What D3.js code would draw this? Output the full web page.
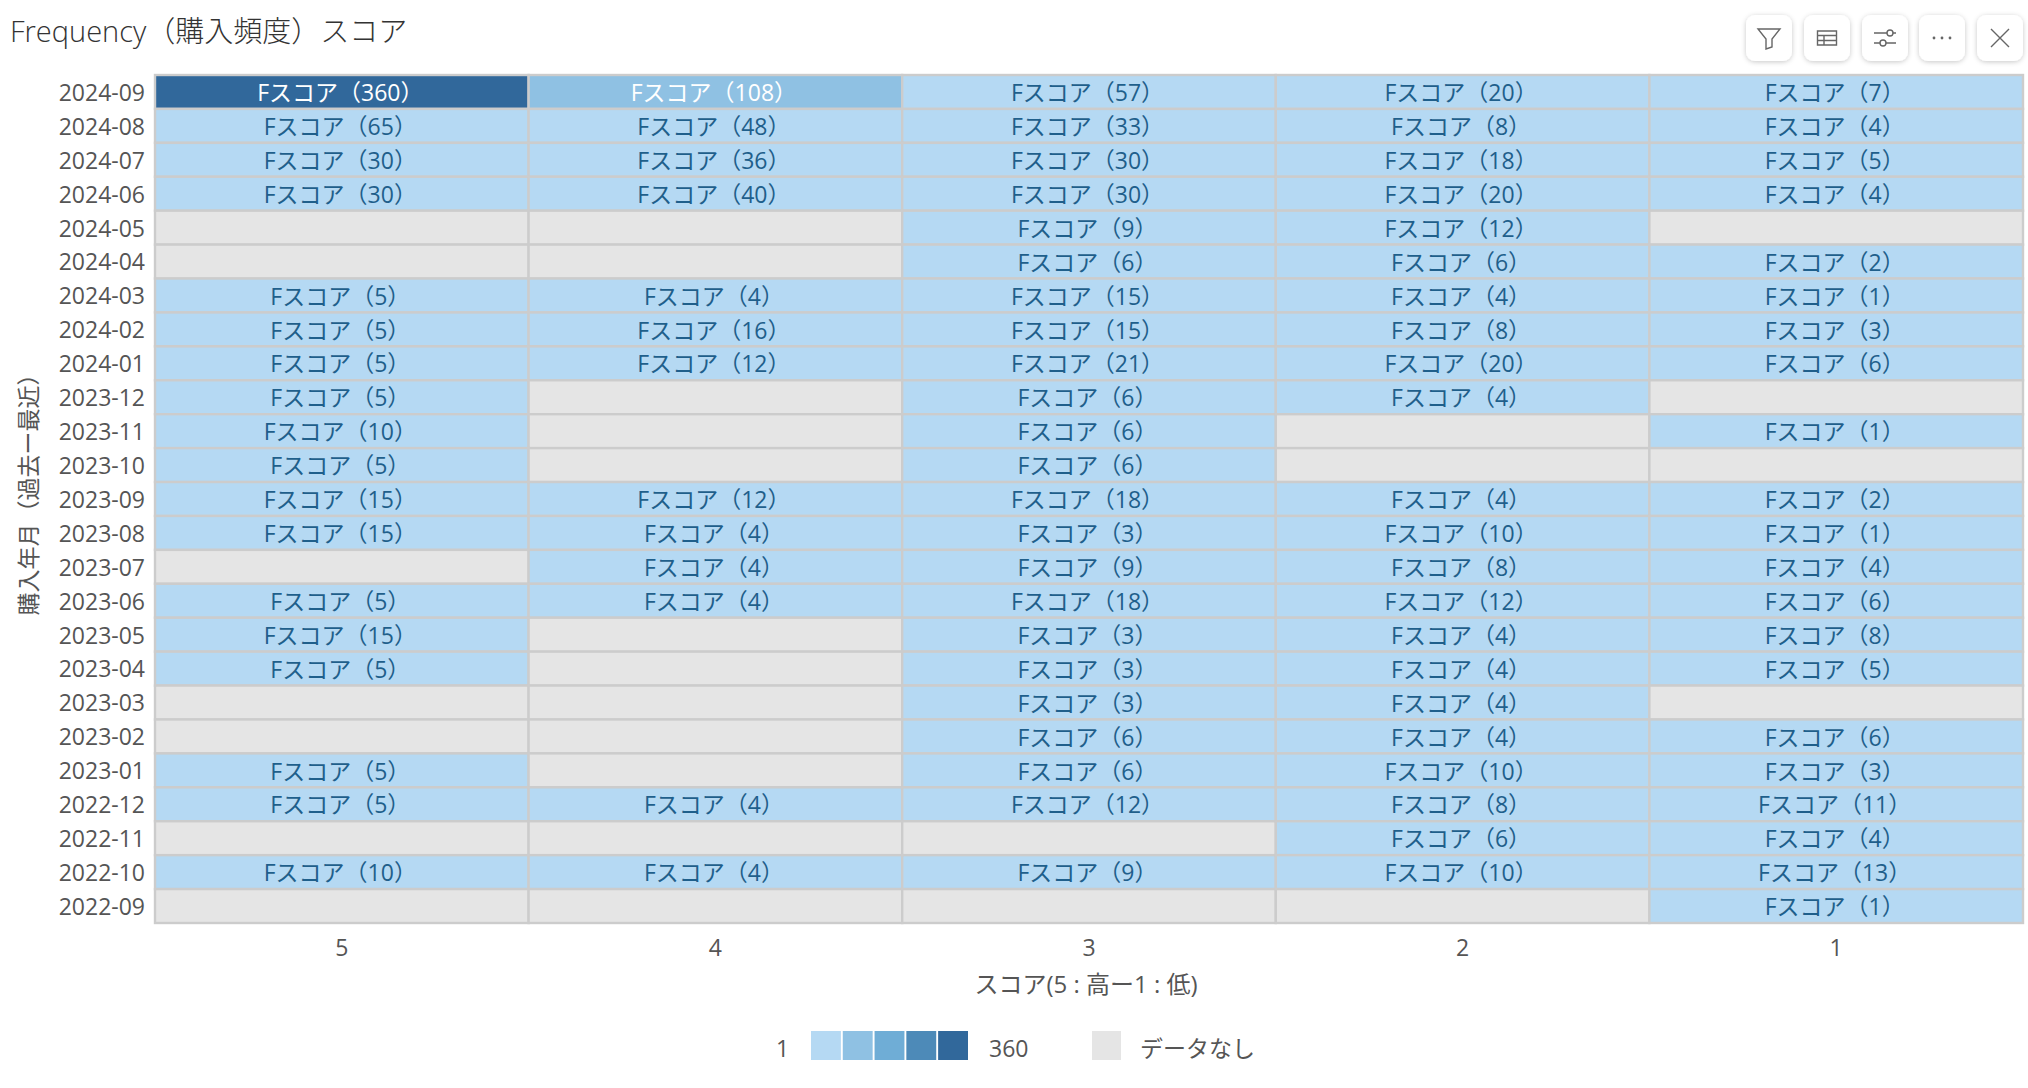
<!DOCTYPE html>
<html><head><meta charset="utf-8">
<script src="https://cdn.jsdelivr.net/npm/d3@7"></script>
<style>
html,body{margin:0;padding:0;background:#fff}
svg{display:block}
text{font-family:"Open Sans","Noto Sans CJK JP",sans-serif}
</style></head><body>
<svg id="c" width="2028" height="1088"></svg>
<script>
const months=["2024-09","2024-08","2024-07","2024-06","2024-05","2024-04","2024-03","2024-02","2024-01","2023-12","2023-11","2023-10","2023-09","2023-08","2023-07","2023-06","2023-05","2023-04","2023-03","2023-02","2023-01","2022-12","2022-11","2022-10","2022-09"];
const scores=["5","4","3","2","1"];
const score5=[360,65,30,30,null,null,5,5,5,5,10,5,15,15,null,5,15,5,null,null,5,5,null,10,null];
const score4=[108,48,36,40,null,null,4,16,12,null,null,null,12,4,4,4,null,null,null,null,null,4,null,4,null];
const score3=[57,33,30,30,9,6,15,15,21,6,6,6,18,3,9,18,3,3,3,6,6,12,null,9,null];
const score2=[20,8,18,20,12,6,4,8,20,4,null,null,4,10,8,12,4,4,4,4,10,8,6,10,null];
const score1=[7,4,5,4,null,2,1,3,6,null,1,null,2,1,4,6,8,5,null,6,3,11,4,13,1];
const seriesByScore=[score5,score4,score3,score2,score1];
const palette=["#b5d9f3","#8fc1e3","#6fadd6","#4d8ab8","#31689b"];
const noData="#e5e5e5";
const titleText="Frequency（購入頻度）スコア";
const xTitle="スコア(5 : 高ー1 : 低)";
const yTitle="購入年月（過去ー最近）";
const noDataText="データなし";
const labelPrefix="Fスコア";

const svg=d3.select("#c");
const L=155,R=2023,T=75,B=923;
const x=d3.scaleBand().domain(scores).range([L,R]);
const y=d3.scaleBand().domain(months).range([T,B]);
const color=d3.scaleQuantize().domain([1,360]).range(palette);
const cells=[];
seriesByScore.forEach((arr,i)=>arr.forEach((v,j)=>cells.push({s:scores[i],m:months[j],v})));

svg.append("text").attr("x",10).attr("y",42).attr("font-size",29).attr("font-weight",300).attr("fill","#333").text(titleText);

const g=svg.append("g");
g.selectAll("rect").data(cells).join("rect")
 .attr("x",d=>x(d.s)).attr("y",d=>y(d.m))
 .attr("width",x.bandwidth()).attr("height",y.bandwidth())
 .attr("fill",d=>d.v==null?noData:color(d.v))
 .attr("stroke","#ccc").attr("stroke-width",2.4);
svg.append("g").selectAll("text").data(cells.filter(d=>d.v!=null)).join("text")
 .attr("x",d=>x(d.s)+x.bandwidth()/2-1.5).attr("y",d=>y(d.m)+y.bandwidth()/2+3)
 .attr("text-anchor","middle").attr("dominant-baseline","middle").attr("font-size",23)
 .attr("fill",d=>{const k=palette.indexOf(color(d.v));return k===0?"#1f5f8b":"#fff";})
 .text(d=>`${labelPrefix}（${d.v}）`);

const yAxis=d3.axisLeft(y).tickSize(0).tickPadding(10);
const ya=svg.append("g").attr("transform",`translate(${L},1.5)`).call(yAxis);
ya.select(".domain").remove();
ya.selectAll("text").attr("font-size",23).attr("fill","#555").style("font-family",'"Open Sans","Noto Sans CJK JP",sans-serif');
const xAxis=d3.axisBottom(x).tickSize(0).tickPadding(0);
const xa=svg.append("g").attr("transform",`translate(0,${B+17})`).call(xAxis);
xa.select(".domain").remove();
xa.selectAll("text").attr("font-size",23).attr("fill","#555").style("font-family",'"Open Sans","Noto Sans CJK JP",sans-serif');

svg.append("text").attr("x",1086).attr("y",987).attr("text-anchor","middle").attr("dominant-baseline","middle").attr("font-size",24).attr("fill","#555").text(xTitle);
svg.append("text").attr("transform","translate(31,489) rotate(-90)").attr("text-anchor","middle").attr("dominant-baseline","middle").attr("font-size",23).attr("fill","#555").text(yTitle);

// legend
const lx=d3.scaleBand().domain(d3.range(palette.length)).range([811,968]).paddingInner(0.06);
svg.append("g").selectAll("rect").data(palette).join("rect")
 .attr("x",(d,i)=>lx(i)).attr("y",1031).attr("width",lx.bandwidth()).attr("height",29).attr("fill",d=>d);
svg.append("rect").attr("x",1092).attr("y",1031).attr("width",29).attr("height",29).attr("fill",noData);
const lg=[[776,"1"],[989,"360"],[1140,noDataText]];
svg.append("g").selectAll("text").data(lg).join("text").attr("x",d=>d[0]).attr("y",1057)
 .attr("font-size",23).attr("fill","#555").text(d=>d[1]);

// toolbar
const defs=svg.append("defs");
const f=defs.append("filter").attr("id","sh").attr("x","-30%").attr("y","-30%").attr("width","160%").attr("height","160%");
f.append("feDropShadow").attr("dx",0).attr("dy",1).attr("stdDeviation",2.5).attr("flood-color","#000").attr("flood-opacity",0.22);
const icons=[
 "M-11 -9H11L3 1V9L-3 11V1Z",
 "M-9.5 -7H9.5V7H-9.5ZM-9.5 -2.5H9.5M-9.5 2.5H9.5M-3 -2.5V7",
 "M-11 -5H2M8 -5H11M-11 5H-5M1 5H11",
 "",
 "M-9 -9L9 9M9 -9L-9 9"];
[1769,1827,1885,1942,2000].forEach((cx,i)=>{
 const b=svg.append("g").attr("transform",`translate(${cx},38)`);
 b.append("rect").attr("x",-23).attr("y",-23).attr("width",46).attr("height",46).attr("rx",9).attr("fill","#fff").attr("filter","url(#sh)");
 if(icons[i])b.append("path").attr("d",icons[i]).attr("fill","none").attr("stroke","#666").attr("stroke-width",1.4);
 if(i===2){b.append("circle").attr("cx",5).attr("cy",-5).attr("r",3).attr("fill","#fff").attr("stroke","#666").attr("stroke-width",1.4);
  b.append("circle").attr("cx",-2).attr("cy",5).attr("r",3).attr("fill","#fff").attr("stroke","#666").attr("stroke-width",1.4);}
 if(i===3)[-8,0,8].forEach(d=>b.append("circle").attr("cx",d).attr("cy",0).attr("r",1.4).attr("fill","#666"));
});
</script></body></html>
